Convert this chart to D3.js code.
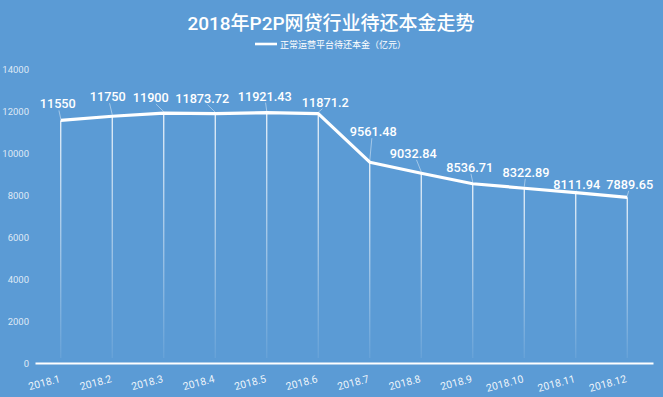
<!DOCTYPE html>
<html><head><meta charset="utf-8">
<script src="https://cdn.jsdelivr.net/npm/d3@7"></script>
<style>
html,body{margin:0;padding:0;background:#5b9bd5;}
svg{display:block;}
</style></head>
<body>
<svg id="c" width="663" height="397"></svg>
<script>
const categories = ["2018.1","2018.2","2018.3","2018.4","2018.5","2018.6","2018.7","2018.8","2018.9","2018.10","2018.11","2018.12"];
const values = [11550, 11750, 11900, 11873.72, 11921.43, 11871.2, 9561.48, 9032.84, 8536.71, 8322.89, 8111.94, 7889.65];
const valueLabels = ["11550","11750","11900","11873.72","11921.43","11871.2","9561.48","9032.84","8536.71","8322.89","8111.94","7889.65"];
// label offsets relative to point (dx, dy) for label center / baseline
const labelOffsets = [[-3,-12],[-4.5,-15],[-13,-11],[-13,-11],[-2,-12],[7,-7],[3.5,-26],[-8,-15.5],[-3,-12],[1.7,-11.5],[1,-4],[2.5,-8.5]];
const yTicks = [0,2000,4000,6000,8000,10000,12000,14000];
const title = "2018年P2P网贷行业待还本金走势";
const seriesName = "正常运营平台待还本金（亿元）";

const W = 663, H = 397;
const svg = d3.select("#c");
svg.append("rect").attr("width",W).attr("height",H).attr("fill","#5b9bd5");
const font = "Roboto,'Noto Sans CJK SC',sans-serif";

const x = d3.scaleBand().domain(categories).range([35,653]);
const y = d3.scaleLinear().domain([0,14000]).range([363,69]);
const cx = d => x(d) + x.bandwidth()/2;

const defs = svg.append("defs");
const grad = defs.append("linearGradient").attr("id","fade").attr("x1",0).attr("y1",0).attr("x2",0).attr("y2",1);
grad.append("stop").attr("offset","0%").attr("stop-color","#fff").attr("stop-opacity",0.95);
grad.append("stop").attr("offset","100%").attr("stop-color","#fff").attr("stop-opacity",0.08);

// title
svg.append("text").attr("x",331).attr("y",30).attr("text-anchor","middle")
  .attr("fill","#fff").attr("font-family",font).attr("font-size",19).attr("font-weight",500).text(title);

// legend
svg.append("line").attr("x1",255).attr("x2",277).attr("y1",44).attr("y2",44).attr("stroke","#fff").attr("stroke-width",2.6);
svg.append("text").attr("x",280).attr("y",47.5).attr("fill","#fff").attr("font-family",font).attr("font-size",9).text(seriesName);

// y axis labels
const yAxis = d3.axisLeft(y).tickValues(yTicks).tickFormat(d3.format("d")).tickSize(0).tickPadding(6);
const ga = svg.append("g").attr("transform","translate(35,0)").call(yAxis);
ga.select(".domain").remove();
ga.selectAll("text").attr("fill","rgba(255,255,255,0.8)").attr("font-family",font).attr("font-size",9.5);

// drop lines
values.forEach((v,i)=>{
  const px = cx(categories[i]);
  svg.append("rect").attr("x",px-0.6).attr("width",1.2).attr("y",y(v)).attr("height",y(0)-y(v)-5)
    .attr("fill","url(#fade)");
});

// x axis
const xAxis = d3.axisBottom(x).tickSize(0).tickPadding(0);
const gx = svg.append("g").attr("transform","translate(0,363)").call(xAxis);
gx.select(".domain").attr("stroke","#fff").attr("stroke-width",2);
gx.selectAll(".tick text").attr("fill","rgba(255,255,255,0.9)").attr("font-family",font).attr("font-size",10.5)
  .attr("text-anchor","end").attr("dy",0).attr("y",0)
  .attr("transform","translate(0,19) rotate(-15)");

// line
const line = d3.line().x((d,i)=>cx(categories[i])).y(d=>y(d));
svg.append("path").datum(values).attr("d",line).attr("fill","none").attr("stroke","#fff").attr("stroke-width",3.2).attr("stroke-linejoin","round");

// labels and leader lines
values.forEach((v,i)=>{
  const px = cx(categories[i]), py = y(v);
  const [dx,dy] = labelOffsets[i];
  const lx = px+dx, ly = py+dy;
  svg.append("line").attr("x1",px).attr("y1",py-1.5).attr("x2",px+dx*0.6).attr("y2",ly+2)
    .attr("stroke","rgba(255,255,255,0.55)").attr("stroke-width",0.8);
  svg.append("text").attr("x",lx).attr("y",ly).attr("text-anchor","middle")
    .attr("fill","#fff").attr("font-family",font).attr("font-size",12.7).attr("font-weight",500).text(valueLabels[i]);
});
</script>
</body></html>
